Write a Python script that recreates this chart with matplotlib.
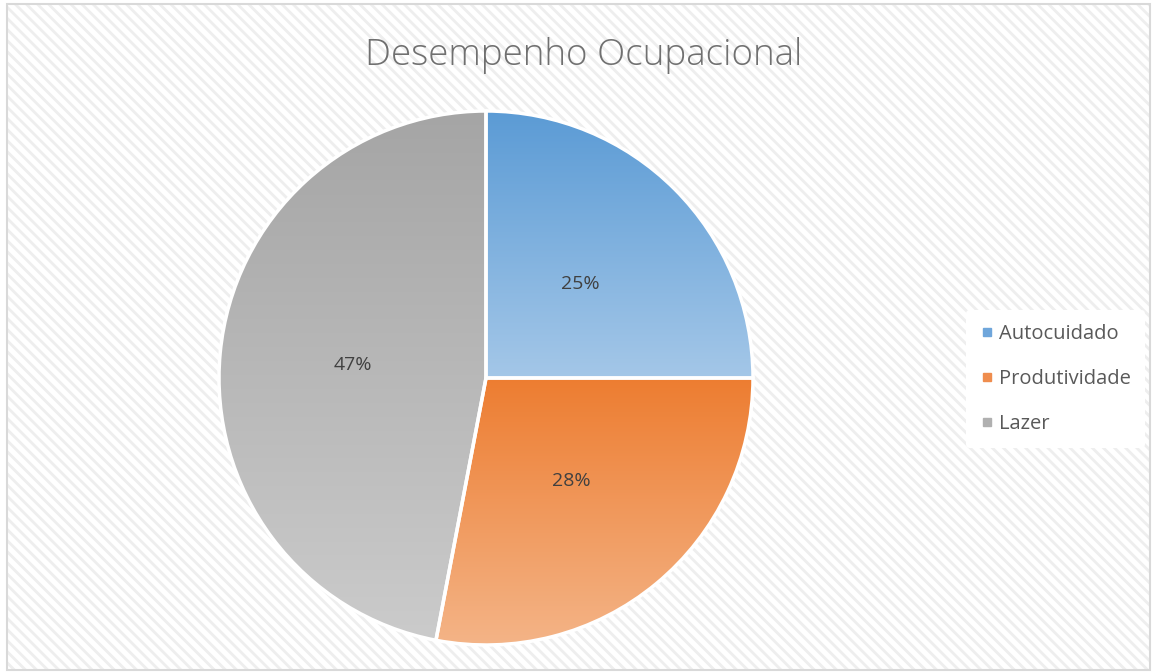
import numpy as np
import matplotlib
matplotlib.use("Agg")
import matplotlib.pyplot as plt
from matplotlib.patches import Rectangle
from matplotlib.lines import Line2D

# chart data
labels = ["Autocuidado", "Produtividade", "Lazer"]
values = [25, 28, 47]
top_colors = ["#5b9bd5", "#ed7d31", "#a5a5a5"]
bottom_colors = ["#a4c7e8", "#f4b487", "#cbcbcb"]
mid_colors = ["#6fa6db", "#ef8d4e", "#b0b0b0"]

W, H = 1154, 672
plt.rcParams["hatch.linewidth"] = 2.0
fig = plt.figure(figsize=(W / 100, H / 100), dpi=100)
fig.patch.set_facecolor("white")

# striped chart background + border
bg = Rectangle((7 / W, 2 / H), 1143 / W, 666 / H, transform=fig.transFigure,
               facecolor="white", edgecolor="#eeeeee", hatch="\\\\\\", linewidth=0,
               zorder=-10)
fig.patches.append(bg)
border = Rectangle((7 / W, 2 / H), 1143 / W, 666 / H, transform=fig.transFigure,
                   facecolor="none", edgecolor="#d9d9d9", linewidth=1.5, zorder=-9)
fig.patches.append(border)

fig.text(584 / W, 1 - 55 / H, "Desempenho Ocupacional", ha="center", va="center",
         fontsize=26.5, color="#707070", family="Open Sans", fontweight="light")

# pie axes: center (486, 378) px, radius 267 px
cx, cy, r, half = 486, 378, 267, 300
ax = fig.add_axes([(cx - half) / W, (H - cy - half) / H, 2 * half / W, 2 * half / H])

wedges, texts, autotexts = ax.pie(
    values, startangle=90, counterclock=False, autopct="%1.0f%%",
    pctdistance=0.5, colors=mid_colors,
    wedgeprops=dict(edgecolor="white", linewidth=2.5),
    textprops=dict(fontsize=14, color="#404040", family="Open Sans"))
ax.axis("off")

# vertical gradient fill for each slice
for w, c0, c1 in zip(wedges, top_colors, bottom_colors):
    th = np.radians(np.linspace(w.theta1, w.theta2, 200))
    xs = np.concatenate([[0], np.cos(th)])
    ys = np.concatenate([[0], np.sin(th)])
    y0, y1 = ys.min(), ys.max()
    a = np.array(matplotlib.colors.to_rgb(c0))
    b = np.array(matplotlib.colors.to_rgb(c1))
    t = np.linspace(0, 1, 256)[:, None]
    grad = (a * (1 - t) + b * t)[:, None, :]
    im = ax.imshow(grad, extent=[xs.min(), xs.max(), y0, y1], origin="upper",
                   aspect="auto", zorder=1.5)
    im.set_clip_path(w)
    w.set_facecolor("none")
    w.set_zorder(2)
for t_ in autotexts:
    t_.set_zorder(3)
ax.set_xlim(-half / r, half / r)
ax.set_ylim(-half / r, half / r)

handles = [Line2D([], [], marker="s", linestyle="none", markersize=6,
                  markerfacecolor=c, markeredgecolor=c) for c in mid_colors]
leg = fig.legend(handles, labels, loc="center left",
                 bbox_to_anchor=(956 / W, 1 - 379 / H), frameon=True,
                 facecolor="white", edgecolor="none", framealpha=1,
                 fontsize=14.5, labelspacing=1.25, handletextpad=0.25,
                 borderpad=0.7, handlelength=0.7)
for txt in leg.get_texts():
    txt.set_color("#595959")
    txt.set_family("Open Sans")

fig.savefig("out.png", dpi=100)
